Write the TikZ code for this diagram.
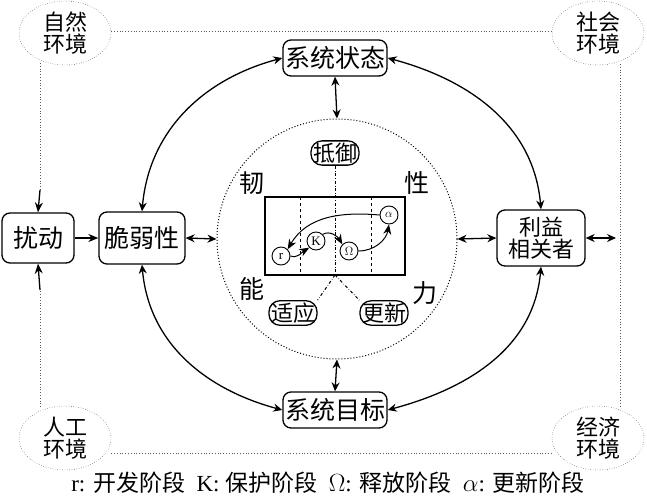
\documentclass[tikz,border=0pt]{standalone}
\usepackage{fontspec}
\setmainfont{Liberation Serif}
\newfontfamily\cjk{Noto Sans CJK SC}
\usetikzlibrary{arrows.meta,shapes.geometric}
\begin{document}
\begin{tikzpicture}[x=1pt,y=-1pt,
  box/.style={draw,line width=1.3pt,rounded corners=8pt,align=center,inner sep=2pt,font=\cjk\fontsize{25}{26}\selectfont},
  env/.style={draw,dotted,ellipse,minimum width=92,minimum height=64,align=center,inner sep=0pt,font=\cjk\fontsize{22}{22}\selectfont},
  sm/.style={draw,circle,line width=0.9pt,inner sep=0pt,minimum size=18,font=\fontsize{13}{13}\selectfont},
  lab/.style={font=\cjk\fontsize{25}{26}\selectfont},
  arr/.style={-{Stealth[length=10pt,width=8pt]},line width=1.3pt},
  darr/.style={{Stealth[length=9pt,width=8pt]}-{Stealth[length=9pt,width=8pt]},line width=1.3pt},
  env line/.style={dotted,gray!70!black,line width=0.8pt}]
\useasboundingbox (0,0) rectangle (647,500);
% environments
\node[env] (ne) at (65,33) {自然\\环境};
\node[env] (se) at (598,33) {社会\\环境};
\node[env] (ae) at (65,438) {人工\\环境};
\node[env] (ee) at (598,438) {经济\\环境};
% main boxes
\node[box,minimum width=72,minimum height=50] (rd) at (38,238) {扰动};
\node[box,minimum width=86,minimum height=52] (cr) at (142,238) {脆弱性};
\node[box,minimum width=104,minimum height=36] (st) at (335,58) {系统状态};
\node[box,minimum width=104,minimum height=36] (gl) at (335,410) {系统目标};
\node[box,minimum width=88,minimum height=56,font=\cjk\fontsize{22}{22}\selectfont] (sh) at (541,238) {利益\\相关者};
% dotted frame
\coordinate (tl) at (40,31); \coordinate (tr) at (620,31);
\coordinate (bl) at (40,453); \coordinate (br) at (620,453);
\draw[env line] (ne.east |- tl) -- (se.west |- tr);
\draw[env line] (ae.east |- bl) -- (ee.west |- br);
\draw[env line] (620,64) -- (620,407);
\draw[env line] (40,63) -- (40,190);
\draw[env line] (40,407) -- (40,290);
\draw[arr] (40,190) -- (rd.north);
\draw[arr] (40,290) -- (rd.south);
% circle
\node[draw,dotted,circle,minimum size=240,line width=1pt] (cc) at (337,239) {};
% arrows
\draw[arr] (rd) -- (cr);
\draw[darr] (cr.east) -- (cc.west);
\draw[darr] (cc.east) -- (sh.west);
\draw[darr] (sh.east) -- (616,238);
\draw[darr] (st.south) -- (cc.north);
\draw[darr] (gl.north) -- (cc.south);
\draw[darr] (st.west) to[out=195,in=85] (cr.north);
\draw[darr] (st.east) to[out=-15,in=95] (sh.north);
\draw[darr] (gl.west) to[out=165,in=-85] (cr.south);
\draw[darr] (gl.east) to[out=15,in=-95] (sh.south);
% inner rectangle
\draw[line width=1.3pt] (265,197) rectangle (405,275);
\draw[dashed,line width=1pt] (300,197) -- (300,275);
\draw[dashed,line width=1pt] (371,197) -- (371,275);
\node[box,font=\cjk\fontsize{22}{22}\selectfont,rounded corners=11pt,inner sep=2pt] (dy) at (335,153) {抵御};
\node[box,font=\cjk\fontsize{22}{22}\selectfont,rounded corners=11pt,inner sep=2pt] (sy) at (293,313) {适应};
\node[box,font=\cjk\fontsize{22}{22}\selectfont,rounded corners=11pt,inner sep=2pt] (gx) at (384,313) {更新};
\coordinate (cb) at (335,275);
\draw[dash dot,line width=1pt] (dy.south) -- (cb);
\draw[dash dot,line width=1pt] (cb) -- (sy.north east);
\draw[dash dot,line width=1pt] (cb) -- (gx.north west);
\node[lab] at (252,183) {韧};
\node[lab] at (417,183) {性};
\node[lab] at (252,289) {能};
\node[lab] at (425,293) {力};
% cycle
\node[sm] (r) at (281,256) {r};
\node[sm] (k) at (316,241) {K};
\node[sm] (o) at (349,251) {$\Omega$};
\node[sm] (a) at (389,215) {$\alpha$};
\draw[arr,line width=1pt] (r.east) to[out=-20,in=210] (k.south west);
\draw[arr,line width=1pt] (k.north east) to[out=30,in=120] (o.north west);
\draw[arr,line width=1pt] (o.east) to[out=0,in=-100] (a.south);
\draw[arr,line width=1pt] (a.west) to[out=175,in=60] (r.north east);
% legend
\node[font=\fontsize{23}{24}\selectfont] (lg) at (328,483) {r: {\cjk 开发阶段}\enspace K: {\cjk 保护阶段}\enspace $\Omega$: {\cjk 释放阶段}\enspace $\alpha$: {\cjk 更新阶段}};
\end{tikzpicture}
\end{document}
